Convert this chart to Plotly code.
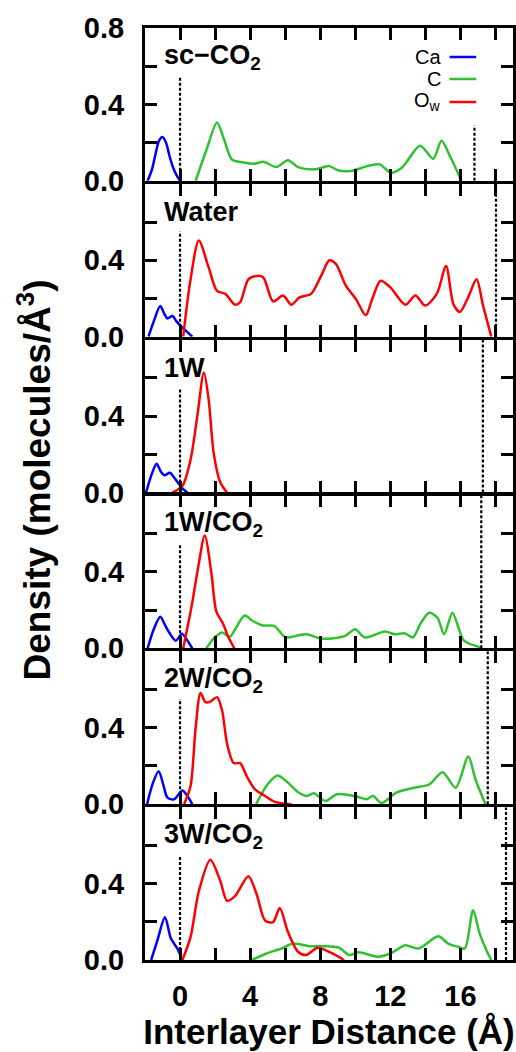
import plotly.graph_objects as go
from plotly.subplots import make_subplots

# ---- density profiles across the interlayer (x in Å, density in molecules/Å^3) ----
panel_names = ["sc−CO<sub>2</sub>", "Water", "1W", "1W/CO<sub>2</sub>", "2W/CO<sub>2</sub>", "3W/CO<sub>2</sub>"]

# Ca profiles
ca_x = [
    [-1.85, -1.6, -1.4, -1.2, -1.0, -0.8, -0.6, -0.4, -0.2, 0.0],
    [-1.8, -1.5, -1.13, -0.9, -0.72, -0.43, -0.2, 0.1, 0.4, 0.7],
    [-1.94, -1.6, -1.34, -1.1, -0.9, -0.58, -0.35, -0.15, 0.15, 0.42],
    [-1.85, -1.5, -1.13, -0.85, -0.62, -0.24, 0.1, 0.37, 0.7],
    [-1.88, -1.55, -1.22, -0.95, -0.72, -0.34, 0.13, 0.42, 0.7],
    [-1.65, -1.3, -0.86, -0.52, -0.15, 0.13],
]
ca_y = [
    [0.0, 0.06, 0.14, 0.21, 0.23, 0.20, 0.13, 0.07, 0.03, 0.0],
    [0.0, 0.08, 0.16, 0.12, 0.095, 0.108, 0.08, 0.05, 0.025, 0.0],
    [0.0, 0.10, 0.151, 0.11, 0.09, 0.103, 0.08, 0.055, 0.02, 0.0],
    [0.0, 0.10, 0.165, 0.12, 0.083, 0.04, 0.076, 0.048, 0.0],
    [0.0, 0.11, 0.172, 0.10, 0.034, 0.026, 0.072, 0.043, 0.0],
    [0.0, 0.10, 0.224, 0.112, 0.06, 0.0],
]

# C (CO2) profiles; None for panels without CO2
c_x = [
    [0.89, 1.5, 2.11, 2.5, 2.96, 3.71, 4.28, 4.75, 5.5, 6.16, 6.73, 7.67, 8.52, 9.0, 9.76,
     10.7, 11.4, 12.0, 12.66, 13.7, 14.45, 14.92, 15.4, 16.06],
    None,
    None,
    [1.5, 1.98, 2.41, 2.83, 3.2, 3.68, 4.15, 4.71, 5.37, 6.03, 6.78, 7.25, 8.0, 8.67, 9.42,
     9.99, 10.55, 11.68, 12.25, 12.81, 13.28, 13.75, 14.22, 14.69, 15.07, 15.54, 15.92, 16.2, 17.14],
    [4.34, 4.99, 5.56, 6.13, 6.78, 7.25, 7.63, 8.29, 8.95, 10.08, 10.65, 11.02, 11.49, 12.34,
     13.37, 14.22, 14.98, 15.73, 16.45, 16.86, 17.43],
    [4.09, 4.94, 5.79, 6.45, 7.39, 8.14, 9.08, 9.65, 10.2, 11.33, 12.09, 12.85, 13.6, 14.74,
     15.3, 15.87, 16.25, 16.72, 17.1, 17.57, 17.76],
]
c_y = [
    [0.0, 0.16, 0.305, 0.22, 0.112, 0.095, 0.09, 0.10, 0.072, 0.108, 0.072, 0.06, 0.077, 0.055, 0.052,
     0.077, 0.086, 0.043, 0.069, 0.184, 0.115, 0.21, 0.13, 0.0],
    None,
    None,
    [0.0, 0.057, 0.083, 0.06, 0.108, 0.172, 0.143, 0.12, 0.117, 0.057, 0.069, 0.074, 0.052, 0.052, 0.065,
     0.10, 0.057, 0.088, 0.074, 0.079, 0.057, 0.134, 0.186, 0.16, 0.074, 0.186, 0.10, 0.04, 0.005],
    [0.0, 0.103, 0.15, 0.115, 0.06, 0.043, 0.057, 0.017, 0.052, 0.04, 0.026, 0.043, 0.005, 0.06,
     0.086, 0.103, 0.167, 0.086, 0.25, 0.129, 0.0],
    [0.0, 0.034, 0.06, 0.086, 0.072, 0.072, 0.064, 0.026, 0.04, 0.017, 0.038, 0.077, 0.06, 0.124,
     0.086, 0.069, 0.06, 0.26, 0.138, 0.034, 0.0],
]

# water oxygen (Ow) profiles; None for the dry panel
ow_x = [
    None,
    [0.18, 0.6, 1.07, 1.64, 2.11, 2.58, 3.15, 3.43, 3.9, 4.37, 4.75, 5.31, 5.88, 6.35, 6.82, 7.48,
     8.05, 8.52, 8.9, 9.46, 10.03, 10.6, 10.97, 11.44, 12.0, 12.86, 13.43, 13.99, 14.65, 15.18,
     15.6, 15.97, 16.44, 16.92, 17.29, 17.76],
    [-0.43, 0.13, 0.6, 0.98, 1.36, 1.64, 1.92, 2.3, 2.68],
    [0.18, 0.66, 1.04, 1.41, 1.79, 2.07, 2.45, 2.73, 3.1],
    [0.23, 0.6, 0.89, 1.17, 1.45, 1.73, 2.11, 2.4, 2.68, 3.06, 3.43, 3.81, 4.28, 4.85, 5.41, 6.35],
    [0.13, 0.6, 1.07, 1.73, 2.3, 2.68, 3.15, 3.9, 4.37, 4.85, 5.31, 5.69, 6.16, 6.73, 7.2, 7.86,
     8.61, 9.36],
]
ow_y = [
    None,
    [0.0, 0.30, 0.504, 0.36, 0.24, 0.224, 0.167, 0.18, 0.30, 0.318, 0.31, 0.184, 0.215, 0.167, 0.206,
     0.224, 0.318, 0.40, 0.38, 0.267, 0.198, 0.112, 0.198, 0.293, 0.258, 0.167, 0.215, 0.163, 0.224,
     0.37, 0.17, 0.129, 0.206, 0.30, 0.163, 0.0],
    [0.0, 0.034, 0.172, 0.396, 0.628, 0.48, 0.206, 0.052, 0.0],
    [0.0, 0.22, 0.427, 0.59, 0.392, 0.194, 0.13, 0.065, 0.0],
    [0.0, 0.095, 0.40, 0.582, 0.534, 0.537, 0.56, 0.49, 0.318, 0.215, 0.215, 0.146, 0.077, 0.043,
     0.012, 0.0],
    [0.0, 0.12, 0.36, 0.525, 0.413, 0.31, 0.336, 0.439, 0.344, 0.207, 0.198, 0.272, 0.146, 0.043,
     0.026, 0.064, 0.038, 0.0],
]

# interface markers: left one at the clay surface, right one at the opposite surface
left_marker_x = [0, 0, 0, 0, 0, 0]
left_marker_top = [0.55, 0.55, 0.55, 0.55, 0.55, 0.55]
right_marker_x = [16.8, 18.03, 17.28, 17.19, 17.56, 18.6]
right_marker_top = [0.29, 0.8, 0.8, 0.8, 0.8, 0.8]

legend_names = ["Ca", "C", "O<sub>w</sub>"]
legend_y = [0.648, 0.533, 0.413]
legend_line_x = [15.38, 16.9]

x_major = [0, 4, 8, 12, 16]
x_minor = [-2, 2, 6, 10, 14, 18]
y_major = [0.0, 0.4]
y_major_top = [0.0, 0.4, 0.8]
y_minor = [0.2, 0.6]

x_title = "Interlayer Distance (Å)"
y_title = "Density (molecules/Å<sup>3</sup>)"

BLUE = "#0000ff"
GREEN = "#2fc22f"
RED = "#ff0000"
FONT = "Liberation Sans"
TICKFONT = dict(family=FONT, size=29, color="black", weight="bold")

n = len(panel_names)
fig = make_subplots(rows=n, cols=1, vertical_spacing=0)

# stacked panels whose frame lines meet in one seam
TOP, BOTTOM, HEIGHT, LW, TICKLEN = 28, 92, 1052, 3, 12
plot_h = HEIGHT - TOP - BOTTOM
panel_h = (plot_h - (n - 1) * LW) / n


def line_trace(x, y, color, width=2.5, dash=None, smooth=True):
    ln = dict(color=color, width=width)
    if dash:
        ln["dash"] = dash
    if smooth:
        ln["shape"] = "spline"
        ln["smoothing"] = 0.8
    return go.Scatter(x=x, y=y, mode="lines", line=ln, showlegend=False, hoverinfo="skip")


def clamp01(v):
    return min(1.0, max(0.0, round(v, 6)))


for i in range(n):
    r = i + 1
    sfx = "" if r == 1 else str(r)
    fig.add_trace(line_trace(ca_x[i], ca_y[i], BLUE), row=r, col=1)
    if c_x[i] is not None:
        fig.add_trace(line_trace(c_x[i], c_y[i], GREEN), row=r, col=1)
    if ow_x[i] is not None:
        fig.add_trace(line_trace(ow_x[i], ow_y[i], RED), row=r, col=1)
    for mx, mt in ((left_marker_x[i], left_marker_top[i]), (right_marker_x[i], right_marker_top[i])):
        fig.add_trace(line_trace([mx, mx], [0, mt], "black", width=2.2, dash="3px,2px", smooth=False),
                      row=r, col=1)

    top_px = i * (panel_h + LW)
    bot_px = top_px + panel_h
    dom = [clamp01((plot_h - bot_px) / plot_h), clamp01((plot_h - top_px) / plot_h)]

    fig.add_annotation(x=-1.02, y=0.65, xref="x" + sfx, yref="y" + sfx,
                       text="<b>" + panel_names[i] + "</b>", showarrow=False,
                       xanchor="left", yanchor="middle",
                       font=dict(family=FONT, size=27, color="black"))

    xkw = {}
    if r == n:
        xkw["title"] = dict(text="<b>" + x_title + "</b>", standoff=6,
                            font=dict(family=FONT, size=35, color="black"))
    fig.update_xaxes(row=r, col=1, range=[-2, 19], tickvals=x_major,
                     ticks="inside", ticklen=TICKLEN, tickwidth=3, tickcolor="black",
                     minor=dict(tickvals=x_minor, ticks="inside", ticklen=TICKLEN, tickwidth=3,
                                tickcolor="black"),
                     showline=True, linewidth=LW, linecolor="black", mirror="ticks",
                     showgrid=False, zeroline=False, showticklabels=(r == n),
                     ticklabelstandoff=8, tickfont=TICKFONT, **xkw)
    fig.update_yaxes(row=r, col=1, range=[0, 0.8], domain=dom,
                     tickvals=(y_major_top if r == 1 else y_major), tickformat=".1f",
                     ticks="inside", ticklen=TICKLEN, tickwidth=3, tickcolor="black",
                     minor=dict(tickvals=y_minor, ticks="inside", ticklen=TICKLEN, tickwidth=3,
                                tickcolor="black"),
                     showline=True, linewidth=LW, linecolor="black", mirror="ticks",
                     showgrid=False, zeroline=False, ticklabelstandoff=12, tickfont=TICKFONT)

# legend in the top panel: right-aligned names followed by a short line sample
for name, ly, col in zip(legend_names, legend_y, [BLUE, GREEN, RED]):
    fig.add_annotation(x=15.0, y=ly, xref="x", yref="y", text=name, showarrow=False,
                       xanchor="right", yanchor="middle",
                       font=dict(family=FONT, size=20, color="black"))
    fig.add_trace(line_trace(legend_line_x, [ly, ly], col, smooth=False), row=1, col=1)

# a bare full-height axis that carries the shared y title
fig.add_trace(go.Scatter(x=[None], y=[None], xaxis="x7", yaxis="y7", mode="lines",
                         showlegend=False, hoverinfo="skip"))
fig.update_layout(
    xaxis7=dict(domain=[0, 1], anchor="y7", range=[0, 1], visible=False),
    yaxis7=dict(domain=[0.03, 1.0], anchor="x7", range=[0, 1], showline=False, ticks="",
                showticklabels=False, showgrid=False, zeroline=False, fixedrange=True,
                title=dict(text="<b>" + y_title + "</b>", standoff=82,
                           font=dict(family=FONT, size=37, color="black"))),
)

fig.update_layout(width=516, height=HEIGHT, margin=dict(l=145, r=0, t=TOP, b=BOTTOM),
                  paper_bgcolor="white", plot_bgcolor="rgba(0,0,0,0)", showlegend=False)

fig.write_html("out.html")
